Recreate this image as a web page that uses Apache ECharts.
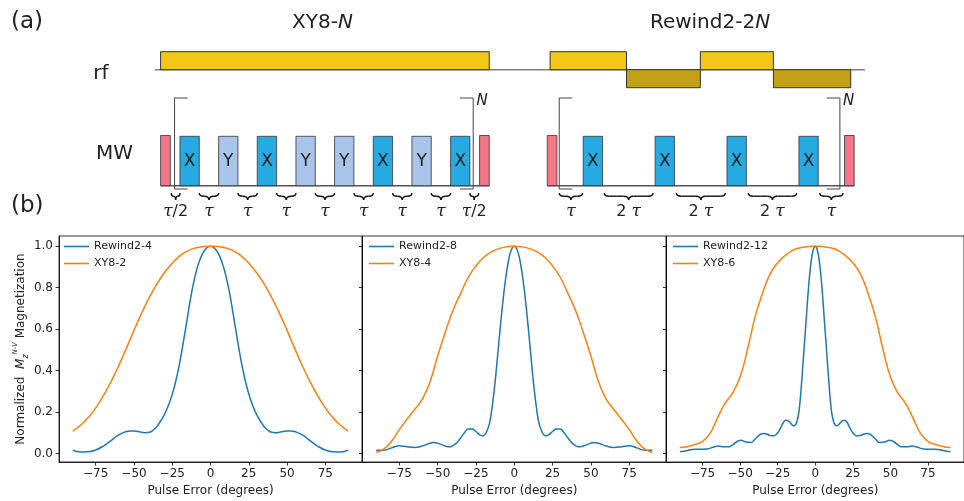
<!DOCTYPE html>
<html><head><meta charset="utf-8">
<script src="https://cdn.jsdelivr.net/npm/echarts@6/dist/echarts.min.js"></script>
<style>html,body{margin:0;padding:0;background:#fff}#c{width:964px;height:501px}</style>
</head><body><div id="c"></div>
<script>
// ---------- panel (b) data ----------
const xTicks = [-75, -50, -25, 0, 25, 50, 75];
const yTicks = [0, 0.2, 0.4, 0.6, 0.8, 1.0];
const panelTitles = ['Pulse Error (degrees)', 'Pulse Error (degrees)', 'Pulse Error (degrees)'];
const seriesNames = [['Rewind2-4', 'XY8-2'], ['Rewind2-8', 'XY8-4'], ['Rewind2-12', 'XY8-6']];

const step5X = [-90,-85,-80,-75,-70,-65,-60,-55,-50,-45,-40,-35,-30,-25,-20,-15,-10,-5,0,5,10,15,20,25,30,35,40,45,50,55,60,65,70,75,80,85,90];

const rew4X = [-90,-85,-80,-75,-70,-65,-60,-55,-52.5,-50,-45,-42.5,-40,-37.5,-35,-32.5,-30,-27.5,-25,-22.5,-20,-17.5,-15,-12.5,-10,-7.5,-5,-2.5,0,2.5,5,7.5,10,12.5,15,17.5,20,22.5,25,27.5,30,32.5,35,37.5,40,42.5,45,50,52.5,55,60,65,70,75,80,85,90];
const rew4Y = [0.016,0.007,0.008,0.017,0.036,0.062,0.09,0.106,0.109,0.108,0.103,0.100,0.102,0.112,0.13,0.158,0.19,0.232,0.285,0.355,0.443,0.548,0.66,0.77,0.858,0.923,0.966,0.991,1.0,0.991,0.966,0.923,0.858,0.772,0.665,0.552,0.447,0.358,0.288,0.233,0.19,0.158,0.13,0.112,0.102,0.100,0.103,0.108,0.109,0.106,0.09,0.062,0.036,0.017,0.008,0.007,0.016];
const xy82Y = [0.108,0.136,0.172,0.220,0.279,0.347,0.423,0.507,0.594,0.677,0.752,0.818,0.873,0.918,0.953,0.977,0.991,0.998,1.0,0.998,0.991,0.977,0.953,0.918,0.873,0.818,0.752,0.677,0.594,0.507,0.423,0.347,0.279,0.220,0.172,0.136,0.108];

const rew8X = [-90,-85,-80,-75,-70,-65,-60,-55,-52.5,-50,-45,-42.5,-40,-37.5,-35,-32.5,-30,-27.5,-25,-22.5,-20.5,-19,-17.5,-16,-14.5,-13,-11.5,-10,-8.5,-7,-5.5,-4,-2.5,-1,0,1,2.5,4,5.5,7,8.5,10,11.5,13,14.5,16,17.5,19,20.5,22.5,25,27.5,30,32.5,35,37.5,40,42.5,45,50,52.5,55,60,65,70,75,80,85,90];
const rew8Y = [0.016,0.016,0.027,0.037,0.033,0.029,0.036,0.049,0.053,0.05,0.036,0.032,0.038,0.052,0.075,0.1,0.118,0.118,0.106,0.09,0.085,0.092,0.115,0.15,0.22,0.31,0.42,0.54,0.655,0.76,0.85,0.92,0.97,0.995,1.0,0.995,0.97,0.92,0.85,0.76,0.655,0.54,0.42,0.31,0.22,0.15,0.115,0.092,0.085,0.09,0.106,0.118,0.118,0.1,0.075,0.052,0.038,0.032,0.036,0.05,0.053,0.049,0.036,0.029,0.033,0.037,0.027,0.016,0.016];
const xy84Y = [0.006,0.022,0.06,0.115,0.165,0.212,0.262,0.345,0.47,0.585,0.69,0.772,0.85,0.905,0.945,0.972,0.988,0.997,1.0,0.997,0.988,0.972,0.945,0.905,0.85,0.772,0.69,0.585,0.47,0.345,0.262,0.212,0.165,0.115,0.06,0.022,0.006];

const rew12X = [-90,-85,-80,-76,-72,-68,-64.5,-61,-58,-55,-52,-49.5,-46,-43,-40,-37,-34.5,-32.5,-30,-27.5,-25,-23,-21,-19.5,-18,-16,-14.5,-13,-12,-11,-10,-9,-8,-7,-6,-5,-4,-3,-2,-1,0,1,2,3,4,5,6,7,8,9,10,11,12,13,14.5,16,18,19.5,21,23,25,27.5,30,32.5,34.5,37,40,43,46,49.5,52,55,58,61,64.5,68,72,76,80,85,90];
const rew12Y = [0.008,0.015,0.021,0.02,0.022,0.03,0.036,0.032,0.032,0.042,0.058,0.064,0.055,0.053,0.07,0.09,0.097,0.094,0.087,0.086,0.1,0.125,0.152,0.16,0.157,0.143,0.134,0.14,0.16,0.195,0.26,0.35,0.45,0.55,0.65,0.75,0.84,0.91,0.96,0.99,1.0,0.99,0.96,0.91,0.84,0.75,0.65,0.55,0.45,0.35,0.26,0.195,0.16,0.14,0.134,0.143,0.157,0.16,0.152,0.125,0.1,0.086,0.087,0.094,0.097,0.09,0.07,0.053,0.055,0.064,0.058,0.042,0.032,0.032,0.036,0.03,0.022,0.02,0.021,0.015,0.008];
const xy86Y = [0.029,0.034,0.044,0.058,0.097,0.172,0.243,0.292,0.37,0.505,0.66,0.775,0.866,0.92,0.955,0.98,0.992,0.998,1.0,0.998,0.992,0.98,0.955,0.92,0.866,0.775,0.66,0.505,0.37,0.292,0.243,0.172,0.097,0.058,0.044,0.034,0.029];

// ---------- panel (a) schematic data (time in units of XY8 tau) ----------
const xy8Pulses = [['p',0,0.5],['X',1,2],['Y',3,4],['X',5,6],['Y',7,8],['Y',9,10],['X',11,12],['Y',13,14],['X',15,16],['p',16.5,17]];
const rewindPulses = [['p',20,20.5],['X',21.86,22.86],['X',25.58,26.58],['X',29.3,30.3],['X',33.02,34.02],['p',35.38,35.88]];
const rfBlocks = [[0,17,1],[20.15,24.1,1],[24.1,27.92,-1],[27.92,31.7,1],[31.7,35.7,-1]];
const rfLine = [[-0.3,36.44]];
const mwLines = [[0,17],[20,35.88]];
const brackets = [[0.72,16.17],[20.62,35.14]];
const gapBraces = [['τ/2',0.55,1.0],['τ',2,3],['τ',4,5],['τ',6,7],['τ',8,9],['τ',10,11],['τ',12,13],['τ',14,15],['τ/2',16.0,16.45],
  ['τ',20.62,21.83],['2 τ',22.95,25.47],['2 τ',26.68,29.21],['2 τ',30.4,32.9],['τ',34.1,35.3]];

// ---------- layout / style constants ----------
const FONT = 'DejaVu Sans';
const TXT = '#222';
const BLUE = '#1f77b4', ORANGE = '#ff7f0e';
const RF_BASE = 69.7, RF_H = 18, MW_BASE = 185.7, PULSE_TOP = 136.3, PINK_TOP = 135.5;
const BR_TOP = 98, BR_BOT = 189, BR_SERIF = 0.68, BRACE_TOP = 193, LABEL_Y = 212;
const COLORS = {X:'#27a9e1', Y:'#a8c4e8', p:'#f27588'};

const pairs = (xs, ys) => xs.map((x, i) => [x, ys[i]]);

function rfItem(params, api) {
  const b = rfBlocks[params.dataIndex];
  const a = api.coord([b[0], RF_BASE]);
  const c = api.coord([b[1], RF_BASE - b[2] * RF_H]);
  return {type:'rect', shape:{x:Math.min(a[0],c[0]), y:Math.min(a[1],c[1]), width:Math.abs(c[0]-a[0]), height:Math.abs(c[1]-a[1])},
    style:{fill: b[2] > 0 ? '#f2c718' : '#c4a016', stroke:'#333', lineWidth:1}};
}
function lineItem(yLevel, color, w) {
  return function (params, api) {
    const a = api.coord([api.value(0), yLevel]);
    const c = api.coord([api.value(1), yLevel]);
    return {type:'line', shape:{x1:a[0], y1:a[1], x2:c[0], y2:c[1]}, style:{stroke:color, lineWidth:w}};
  };
}
function pulseItem(list) {
  return function (params, api) {
    const p = list[params.dataIndex];
    const top = p[0] === 'p' ? PINK_TOP : PULSE_TOP;
    const a = api.coord([p[1], top]);
    const c = api.coord([p[2], MW_BASE]);
    const children = [{type:'rect', shape:{x:a[0], y:a[1], width:c[0]-a[0], height:c[1]-a[1]},
      style:{fill:COLORS[p[0]], stroke:'#333', lineWidth:0.8}}];
    if (p[0] !== 'p') {
      children.push({type:'text', x:(a[0]+c[0])/2, y:(a[1]+c[1])/2 + 1,
        style:{text:p[0], fill:TXT, font:'17px "DejaVu Sans"', textAlign:'center', textVerticalAlign:'middle'}});
    }
    return {type:'group', children};
  };
}
function bracketItem(params, api) {
  const b = brackets[params.dataIndex];
  const L = api.coord([b[0], BR_TOP]), Ls = api.coord([b[0] + BR_SERIF, BR_BOT]);
  const R = api.coord([b[1], BR_TOP]), Rs = api.coord([b[1] - BR_SERIF, BR_BOT]);
  const st = {stroke:'#444', lineWidth:1, fill:null};
  return {type:'group', children:[
    {type:'polyline', shape:{points:[[Ls[0],L[1]],[L[0],L[1]],[L[0],Ls[1]],[Ls[0],Ls[1]]]}, style:st},
    {type:'polyline', shape:{points:[[Rs[0],R[1]],[R[0],R[1]],[R[0],Rs[1]],[Rs[0],Rs[1]]]}, style:st}
  ]};
}
function braceItem(params, api) {
  const g = gapBraces[params.dataIndex];
  const a = api.coord([g[1], BRACE_TOP]);
  const c = api.coord([g[2], BRACE_TOP]);
  const x1 = a[0], x2 = c[0], xm = (x1 + x2) / 2, y0 = a[1], y1 = y0 + 3.2, y2 = y0 + 7;
  const q = Math.min(5, (x2 - x1) / 4);
  const st = {stroke:'#111', lineWidth:1.4, fill:null};
  const bz = (sx, sy, cx, cy, ex, ey) => ({type:'bezierCurve', shape:{x1:sx, y1:sy, cpx1:cx, cpy1:cy, x2:ex, y2:ey}, style:st});
  const label = g[0];
  const children = [
    bz(x1, y0, x1, y1, x1 + q, y1),
    {type:'line', shape:{x1:x1 + q, y1:y1, x2:xm - q, y2:y1}, style:st},
    bz(xm - q, y1, xm, y1, xm, y2),
    bz(xm, y2, xm, y1, xm + q, y1),
    {type:'line', shape:{x1:xm + q, y1:y1, x2:x2 - q, y2:y1}, style:st},
    bz(x2 - q, y1, x2, y1, x2, y0),
    {type:'text', x:xm, y:LABEL_Y, style:{
      text: label === 'τ' ? '{t|τ}' : (label === 'τ/2' ? '{t|τ}{n|/2}' : '{n|2 }{t|τ}'),
      rich:{t:{font:'italic 17px "DejaVu Serif"', fill:TXT}, n:{font:'16px "DejaVu Sans"', fill:TXT}},
      textAlign:'center', textVerticalAlign:'middle'}}
  ];
  return {type:'group', children};
}

const lineCommon = {type:'line', showSymbol:false, smooth:0.5, lineStyle:{width:1.5}};
const xLabelFmt = v => (v < 0 ? '\u2212' + Math.abs(v) : String(v));

function plotX(i) {
  return {gridIndex:i, type:'value', min:-99, max:99,
    axisLine:{show:true, onZero:false, lineStyle:{color:'#000', width:0.8}},
    axisTick:{show:true, length:3.5, customValues:xTicks, lineStyle:{color:'#000', width:0.8}},
    axisLabel:{customValues:xTicks, formatter:xLabelFmt, fontSize:12, color:TXT, margin:6, fontFamily:FONT},
    splitLine:{show:false},
    name:panelTitles[i-1], nameLocation:'middle', nameGap:23,
    nameTextStyle:{fontSize:12, color:TXT, fontFamily:FONT}};
}
function plotY(i) {
  const ax = {gridIndex:i, type:'value', min:-0.041, max:1.049,
    axisLine:{show:true, onZero:false, lineStyle:{color:'#000', width:0.8}},
    axisTick:{show:true, length:3.5, customValues:yTicks, lineStyle:{color:'#000', width:0.8}},
    axisLabel:{show:i === 1, customValues:yTicks, formatter:v => v.toFixed(1), fontSize:12, color:TXT, margin:6, fontFamily:FONT},
    splitLine:{show:false}};
  if (i === 1) {
    ax.name = '{a|Normalized  }{m|M}{s|z}{p|N-V}{a| Magnetization}';
    ax.nameLocation = 'middle';
    ax.nameGap = 25;
    ax.nameRotate = 90;
    ax.nameTextStyle = {fontFamily:FONT, color:TXT, fontSize:12, rich:{
      a:{fontSize:12, fontFamily:FONT, color:TXT, lineHeight:18, verticalAlign:'middle'},
      m:{fontSize:12, fontFamily:FONT, fontStyle:'italic', color:TXT, lineHeight:18, verticalAlign:'middle'},
      s:{fontSize:8, fontFamily:FONT, fontStyle:'italic', color:TXT, lineHeight:18, verticalAlign:'bottom'},
      p:{fontSize:7, fontFamily:FONT, fontStyle:'italic', color:TXT, lineHeight:18, verticalAlign:'top'}}};
  }
  return ax;
}
function legendFor(i, left) {
  return {data:seriesNames[i], left:left, top:241, orient:'vertical', icon:'rect', itemWidth:25, itemHeight:1.6,
    itemGap:6, selectedMode:false, padding:0, textStyle:{fontSize:11, color:TXT, fontFamily:FONT}};
}

const chart = echarts.init(document.getElementById('c'), null, {renderer:'canvas'});
chart.setOption({
  animation:false,
  backgroundColor:'#fff',
  color:[BLUE, ORANGE],
  grid:[
    {left:0, top:0, width:964, height:501, show:false},
    {left:59, top:236, width:303, height:226, show:true, borderColor:'#000', borderWidth:0.8},
    {left:362.5, top:236, width:303.5, height:226, show:true, borderColor:'#000', borderWidth:0.8},
    {left:666.5, top:236, width:303, height:226, show:true, borderColor:'#000', borderWidth:0.8}
  ],
  xAxis:[{gridIndex:0, type:'value', min:-8.31, max:41.56, show:false}, plotX(1), plotX(2), plotX(3)],
  yAxis:[{gridIndex:0, type:'value', min:0, max:501, inverse:true, show:false}, plotY(1), plotY(2), plotY(3)],
  legend:[legendFor(0, 64), legendFor(1, 369), legendFor(2, 673)],
  graphic:[
    {type:'text', left:11, top:11, style:{text:'(a)', font:'23px "DejaVu Sans"', fill:TXT}},
    {type:'text', left:11, top:195, style:{text:'(b)', font:'23px "DejaVu Sans"', fill:TXT}},
    {type:'text', x:322.5, y:23, style:{text:'{a|XY8-}{b|N}', rich:{a:{font:'20px "DejaVu Sans"', fill:TXT}, b:{font:'italic 20px "DejaVu Sans"', fill:TXT}}, textAlign:'center', textVerticalAlign:'middle'}},
    {type:'text', x:710, y:23, style:{text:'{a|Rewind2-2}{b|N}', rich:{a:{font:'20px "DejaVu Sans"', fill:TXT}, b:{font:'italic 20px "DejaVu Sans"', fill:TXT}}, textAlign:'center', textVerticalAlign:'middle'}},
    {type:'text', x:101, y:74, style:{text:'rf', font:'20px "DejaVu Sans"', fill:TXT, textAlign:'center', textVerticalAlign:'middle'}},
    {type:'text', x:114.5, y:154, style:{text:'MW', font:'20px "DejaVu Sans"', fill:TXT, textAlign:'center', textVerticalAlign:'middle'}},
    {type:'text', x:482, y:101, style:{text:'N', font:'italic 15px "DejaVu Sans"', fill:TXT, textAlign:'center', textVerticalAlign:'middle'}},
    {type:'text', x:848.5, y:101, style:{text:'N', font:'italic 15px "DejaVu Sans"', fill:TXT, textAlign:'center', textVerticalAlign:'middle'}}
  ],
  series:[
    {type:'custom', xAxisIndex:0, yAxisIndex:0, clip:false, renderItem:lineItem(RF_BASE, '#808080', 1.6), data:rfLine, z:1},
    {type:'custom', xAxisIndex:0, yAxisIndex:0, clip:false, renderItem:lineItem(MW_BASE, '#555', 1.4), data:mwLines, z:1},
    {type:'custom', xAxisIndex:0, yAxisIndex:0, clip:false, renderItem:rfItem, data:rfBlocks.map(b => [b[0], b[1]]), z:2},
    {type:'custom', xAxisIndex:0, yAxisIndex:0, clip:false, renderItem:pulseItem(xy8Pulses), data:xy8Pulses.map(p => [p[1], p[2]]), z:2},
    {type:'custom', xAxisIndex:0, yAxisIndex:0, clip:false, renderItem:pulseItem(rewindPulses), data:rewindPulses.map(p => [p[1], p[2]]), z:2},
    {type:'custom', xAxisIndex:0, yAxisIndex:0, clip:false, renderItem:bracketItem, data:brackets, z:3},
    {type:'custom', xAxisIndex:0, yAxisIndex:0, clip:false, renderItem:braceItem, data:gapBraces.map(g => [g[1], g[2]]), z:3},

    Object.assign({}, lineCommon, {name:seriesNames[0][0], xAxisIndex:1, yAxisIndex:1, data:pairs(rew4X, rew4Y), color:BLUE}),
    Object.assign({}, lineCommon, {name:seriesNames[0][1], xAxisIndex:1, yAxisIndex:1, data:pairs(step5X, xy82Y), color:ORANGE}),
    Object.assign({}, lineCommon, {name:seriesNames[1][0], xAxisIndex:2, yAxisIndex:2, data:pairs(rew8X, rew8Y), color:BLUE}),
    Object.assign({}, lineCommon, {name:seriesNames[1][1], xAxisIndex:2, yAxisIndex:2, data:pairs(step5X, xy84Y), color:ORANGE}),
    Object.assign({}, lineCommon, {name:seriesNames[2][0], xAxisIndex:3, yAxisIndex:3, data:pairs(rew12X, rew12Y), color:BLUE}),
    Object.assign({}, lineCommon, {name:seriesNames[2][1], xAxisIndex:3, yAxisIndex:3, data:pairs(step5X, xy86Y), color:ORANGE})
  ]
});
</script></body></html>
